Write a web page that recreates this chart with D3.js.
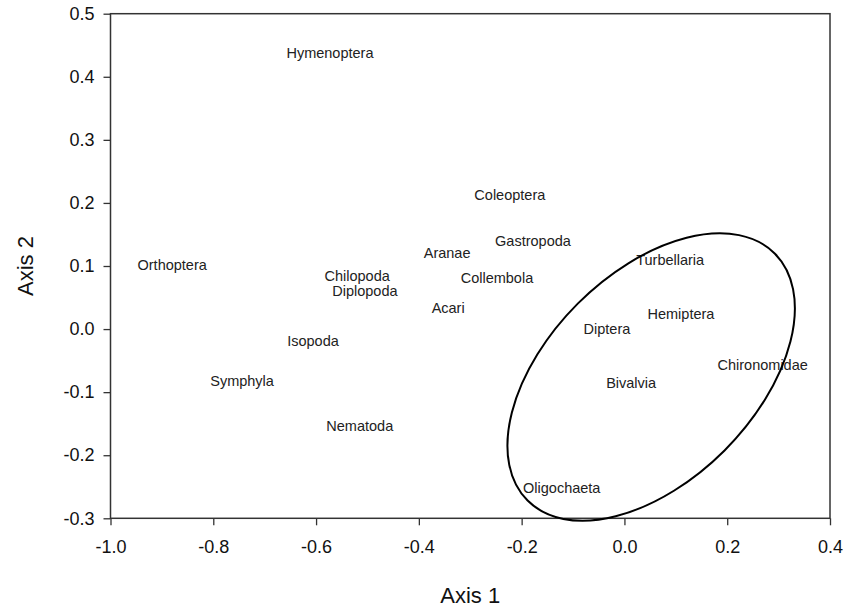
<!DOCTYPE html>
<html>
<head>
<meta charset="utf-8">
<script src="https://cdn.jsdelivr.net/npm/d3@7"></script>
<style>
  html, body { margin: 0; padding: 0; background: #fff; }
  svg { display: block; font-family: "Liberation Sans", Arial, sans-serif; }
</style>
</head>
<body>
<svg id="chart" width="844" height="611"></svg>
<script>
// Data
const taxa = ["Hymenoptera","Coleoptera","Gastropoda","Aranae","Collembola","Acari",
  "Turbellaria","Hemiptera","Diptera","Chironomidae","Bivalvia","Oligochaeta",
  "Orthoptera","Chilopoda","Diplopoda","Isopoda","Symphyla","Nematoda"];
const axis1 = [-0.573,-0.223,-0.178,-0.345,-0.248,-0.343,
  0.089,0.110,-0.034,0.269,0.013,-0.122,
  -0.880,-0.520,-0.505,-0.606,-0.744,-0.515];
const axis2 = [0.438,0.213,0.140,0.121,0.081,0.034,
  0.110,0.024,0.000,-0.057,-0.085,-0.252,
  0.102,0.084,0.061,-0.019,-0.083,-0.153];
const xTicks = [-1.0,-0.8,-0.6,-0.4,-0.2,0.0,0.2,0.4];
const yTicks = [-0.3,-0.2,-0.1,0.0,0.1,0.2,0.3,0.4,0.5];
// ellipse: center (axis1, axis2), semi-axes in axis-1 units, rotation degrees
const ellipseCenter = [0.052, -0.076];
const ellipseAxes = [0.340, 0.202];
const ellipseAngle = 45;

const svg = d3.select("#chart");
const mLeft = 110.5, mRight = 830, mTop = 13.7, mBottom = 518.3;
const x = d3.scaleLinear().domain([-1.0, 0.4]).range([mLeft, mRight]);
const y = d3.scaleLinear().domain([-0.3, 0.5]).range([mBottom, mTop]);

const frameColor = "#333";
const fmt = d => d.toFixed(1);

// Axes
const xAxis = d3.axisBottom(x).tickValues(xTicks).tickFormat(fmt).tickSizeOuter(0).tickSizeInner(7).tickPadding(15);
const yAxis = d3.axisLeft(y).tickValues(yTicks).tickFormat(fmt).tickSizeOuter(0).tickSizeInner(7).tickPadding(9);

const gx = svg.append("g").attr("transform", `translate(0,${mBottom})`).call(xAxis);
const gy = svg.append("g").attr("transform", `translate(${mLeft},0)`).call(yAxis);
[gx, gy].forEach(g => {
  g.select(".domain").remove();
  g.selectAll(".tick line").attr("stroke", frameColor).attr("stroke-width", 1.3);
  g.selectAll(".tick text").attr("fill", "#111").style("font-size", "18px");
});

// Frame
svg.append("rect")
  .attr("x", mLeft).attr("y", mTop)
  .attr("width", mRight - mLeft).attr("height", mBottom - mTop)
  .attr("fill", "none").attr("stroke", frameColor).attr("stroke-width", 1.5);

// Labels
svg.append("g").selectAll("text")
  .data(taxa)
  .join("text")
  .attr("x", (d, i) => x(axis1[i]))
  .attr("y", (d, i) => y(axis2[i]))
  .attr("text-anchor", "middle")
  .attr("dominant-baseline", "central")
  .attr("fill", "#222")
  .style("font-size", "14.5px")
  .text(d => d);

// Ellipse
const pxPerUnit = x(1) - x(0);
svg.append("ellipse")
  .attr("cx", 0).attr("cy", 0)
  .attr("rx", ellipseAxes[0] * pxPerUnit)
  .attr("ry", ellipseAxes[1] * pxPerUnit)
  .attr("transform", `translate(${x(ellipseCenter[0])},${y(ellipseCenter[1])}) rotate(${-ellipseAngle})`)
  .attr("fill", "none").attr("stroke", "#000").attr("stroke-width", 2);

// Axis titles
svg.append("text")
  .attr("x", (mLeft + mRight) / 2).attr("y", 595)
  .attr("text-anchor", "middle").attr("dominant-baseline", "central")
  .attr("fill", "#111").style("font-size", "22px")
  .text("Axis 1");
svg.append("text")
  .attr("transform", `translate(25,${(mTop + mBottom) / 2}) rotate(-90)`)
  .attr("text-anchor", "middle").attr("dominant-baseline", "central")
  .attr("fill", "#111").style("font-size", "22px")
  .text("Axis 2");
</script>
</body>
</html>
